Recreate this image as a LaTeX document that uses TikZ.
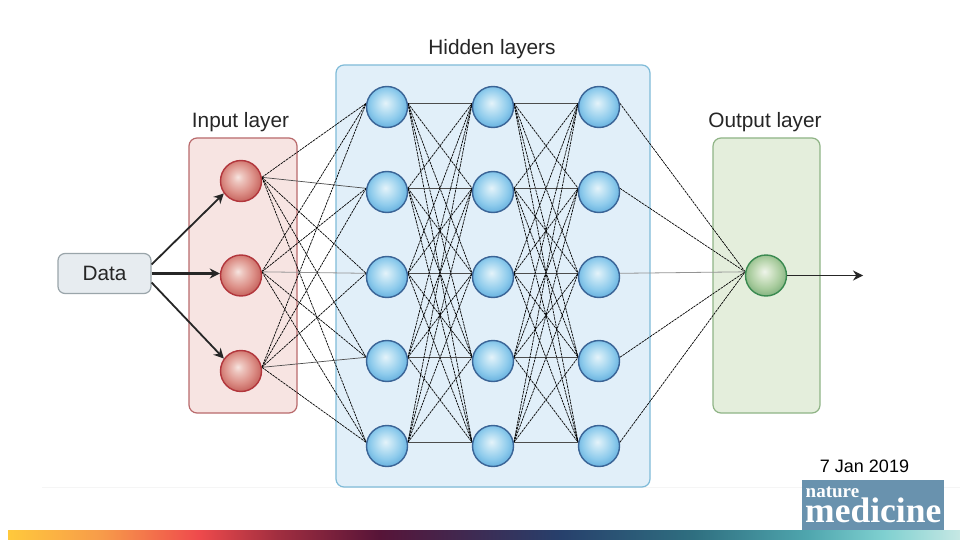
\documentclass[tikz,border=0pt]{standalone}
\usepackage{fontspec}
\setmainfont{Liberation Sans}
\newfontfamily\logofont{Liberation Serif}
\usetikzlibrary{arrows.meta}
\pgfdeclarelayer{panels}
\pgfdeclarelayer{links}
\definecolor{barA}{HTML}{FFC93C}
\definecolor{barA2}{HTML}{F79A4A}
\definecolor{barB}{HTML}{EF4A4C}
\definecolor{barC}{HTML}{A32F40}
\definecolor{barD}{HTML}{571438}
\definecolor{barE}{HTML}{27406C}
\definecolor{barF}{HTML}{2F6F80}
\definecolor{barG}{HTML}{4FA6AE}
\definecolor{barH}{HTML}{7FD0D0}
\definecolor{barI}{HTML}{C6E8E4}
\definecolor{rA}{HTML}{F6E4E0}
\definecolor{rB}{HTML}{EDC4BD}
\definecolor{rC}{HTML}{DC8F87}
\definecolor{rD}{HTML}{C96A64}
\definecolor{bA}{HTML}{E4F3FA}
\definecolor{bB}{HTML}{C0E3F4}
\definecolor{bC}{HTML}{8ECBEC}
\definecolor{bD}{HTML}{69B2DF}
\definecolor{gA}{HTML}{EEF4EA}
\definecolor{gB}{HTML}{D2E4C8}
\definecolor{gC}{HTML}{A9CC9E}
\definecolor{gD}{HTML}{85B482}
\definecolor{inFill}{HTML}{F7E4E2}
\definecolor{inEdge}{HTML}{B96A6C}
\definecolor{hidFill}{HTML}{E1EFF9}
\definecolor{hidEdge}{HTML}{7FBBD8}
\definecolor{outFill}{HTML}{E4EEDC}
\definecolor{outEdge}{HTML}{8FB486}
\definecolor{redEdge}{HTML}{B2363C}
\definecolor{blueEdge}{HTML}{3A6496}
\definecolor{greenEdge}{HTML}{3A8A50}
\definecolor{dataFill}{HTML}{E7ECF0}
\definecolor{dataEdge}{HTML}{9AA5AA}
\definecolor{logoBlue}{HTML}{6992AE}
\pgfdeclareradialshading{redball}{\pgfpoint{-4bp}{5bp}}{color(0bp)=(rA); color(6bp)=(rB); color(18bp)=(rC); color(26bp)=(rD); color(50bp)=(rD)}
\pgfdeclareradialshading{blueball}{\pgfpoint{-2bp}{5bp}}{color(0bp)=(bA); color(8bp)=(bB); color(19bp)=(bC); color(27bp)=(bD); color(50bp)=(bD)}
\pgfdeclareradialshading{greenball}{\pgfpoint{-2bp}{5bp}}{color(0bp)=(gA); color(8bp)=(gB); color(19bp)=(gC); color(27bp)=(gD); color(50bp)=(gD)}
\pgfdeclarehorizontalshading{barshade}{100bp}{color(0bp)=(barA); color(25bp)=(barA); color(30bp)=(barA2); color(35bp)=(barB); color(39bp)=(barC); color(44.5bp)=(barD); color(54bp)=(barE); color(61bp)=(barF); color(67bp)=(barG); color(71bp)=(barH); color(75bp)=(barI); color(100bp)=(barI)}
\tikzset{
  panel/.style={draw=#1, line width=1.2pt, rounded corners=8pt, inner sep=0pt},
  neuron/.style={circle, draw=#1, line width=1.4pt, minimum size=41pt, inner sep=0pt},
  title/.style={font=\fontsize{20.8}{22}\selectfont, text=black!85, inner sep=0pt, anchor=base},
  feed/.style={-{Stealth[length=10pt,width=10pt]}, line width=1.8pt, draw=black!85},
  solidlink/.style={line width=0.7pt, draw=black!70},
  dashlink/.style={line width=0.7pt, draw=black, dash pattern=on 2.5pt off 0.8pt},
  centrelink/.style={line width=0.8pt, draw=black!42},
}
\begin{document}
\begin{tikzpicture}[x=1pt,y=-1pt]
\pgfsetlayers{panels,links,main}
\useasboundingbox (0,0) rectangle (960,540);
\begin{pgfonlayer}{panels}
  \fill[white] (0,0) rectangle (960,540);
  \fill[black!4] (42,487) rectangle (960,488);
  \node[panel=inEdge, fill=inFill, minimum width=108pt, minimum height=275pt] (inpanel) at (243,275.5) {};
  \node[panel=hidEdge, fill=hidFill, minimum width=314pt, minimum height=422pt] (hidpanel) at (493,276) {};
  \node[panel=outEdge, fill=outFill, minimum width=107pt, minimum height=275pt] (outpanel) at (766.5,275.5) {};
\end{pgfonlayer}

\node[title] (inlabel) at (240.5,128) {Input layer};
\node[title] (hidlabel) at (492,55) {Hidden layers};
\node[title] (outlabel) at (765,128) {Output layer};

\node[draw=dataEdge, line width=1.2pt, fill=dataFill, rounded corners=7pt, minimum width=93pt, minimum height=40pt, inner sep=0pt, font=\fontsize{20.8}{22}\selectfont, text=black!85] (data) at (104.5,273.5) {Data};

\node[neuron=redEdge, shading=redball] (i1) at (241,181) {};
\node[neuron=redEdge, shading=redball] (i2) at (241,275.5) {};
\node[neuron=redEdge, shading=redball] (i3) at (241,371) {};

\foreach \c/\x in {1/387,2/493,3/599}
  \foreach \r/\y in {1/107,2/192,3/277,4/361,5/446}
    \node[neuron=blueEdge, shading=blueball] (h\c-\r) at (\x,\y) {};

\node[neuron=greenEdge, shading=greenball] (o) at (766,275.5) {};

\begin{pgfonlayer}{links}
  \foreach \i in {1,2,3}
    \foreach \j in {1,...,5} {
      \ifnum\numexpr\j-\i\relax=1
        \ifnum\i=2
          \draw[centrelink] (i\i.10) -- (h1-\j.170);
        \else
          \draw[solidlink] (i\i.10) -- (h1-\j.170);
        \fi
      \else
        \draw[dashlink] (i\i.10) -- (h1-\j.170);
      \fi
    }
  \foreach \a/\b in {1/2,2/3}
    \foreach \j in {1,...,5}
      \foreach \k in {1,...,5} {
        \ifnum\j=\k
          \draw[solidlink] (h\a-\j.10) -- (h\b-\k.170);
        \else
          \draw[dashlink] (h\a-\j.10) -- (h\b-\k.170);
        \fi
      }
  \foreach \j in {1,2,4,5}
    \draw[dashlink] (h3-\j.10) -- (o.170);
  \draw[centrelink] (h3-3.10) -- (o.170);
\end{pgfonlayer}

\coordinate (dataup) at ([yshift=9pt]data.east);
\coordinate (datadown) at ([yshift=-9pt]data.east);
\draw[feed] (dataup) -- (i1.216);
\draw[feed, line width=2.2pt] (data.east) -- (data.east -| i2.west);
\draw[feed] (datadown) -- (i3.144);

\coordinate (outend) at (863,275.5);
\draw[-{Stealth[length=10pt,width=10pt]}, line width=1.3pt, draw=black!85] (o.east) -- (outend);

\node[inner sep=0pt, anchor=base, font=\fontsize{18}{20}\selectfont] (datelabel) at (864.5,472) {7 Jan 2019};

\node[fill=logoBlue, minimum width=142pt, minimum height=50pt, inner sep=0pt] (logo) at (873,505) {};
\node[inner sep=0pt, anchor=base west, text=white, font=\logofont\bfseries\fontsize{19}{20}\selectfont] (lognature) at (805.5,497.5) {nature};
\node[inner sep=0pt, anchor=base west, text=white, font=\logofont\bfseries\fontsize{35.5}{36}\selectfont] (logmedicine) at (805,522) {medicine};

\shade[shading=barshade] (8,530) rectangle (960,540);
\end{tikzpicture}
\end{document}
